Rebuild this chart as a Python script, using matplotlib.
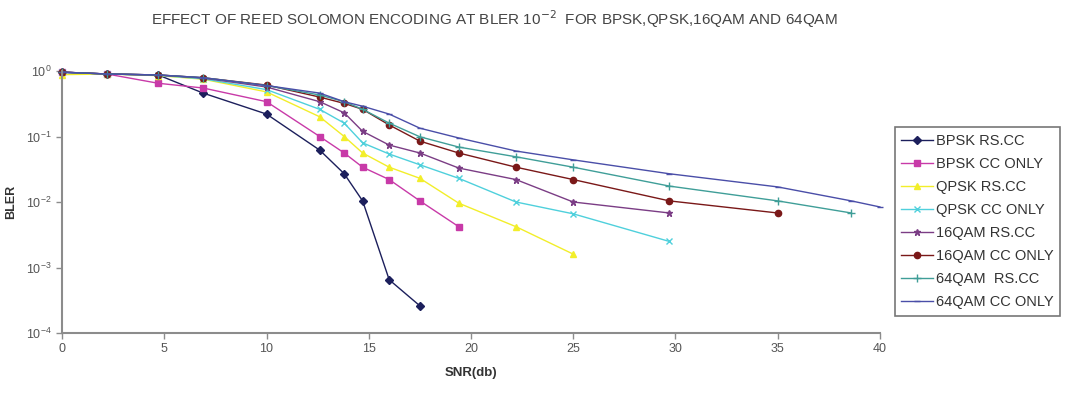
import matplotlib
matplotlib.use("Agg")
import matplotlib.pyplot as plt
import matplotlib.ticker as ticker

plt.rcParams["font.family"] = ["Liberation Sans", "DejaVu Sans"]

snr = [0, 2.2, 4.7, 6.9, 10, 12.6, 13.8, 14.7, 16, 17.5, 19.4, 22.2, 25, 29.7, 35, 38.6, 40]

bpsk_rs = [0.96, 0.90, 0.87, 0.46, 0.22, 0.062, 0.027, 0.0104, 0.00065, 0.00026]
bpsk_cc = [0.96, 0.90, 0.65, 0.55, 0.34, 0.10, 0.056, 0.034, 0.022, 0.0104, 0.0042]
qpsk_rs = [0.88, 0.90, 0.85, 0.75, 0.48, 0.20, 0.10, 0.056, 0.034, 0.023, 0.0096, 0.0042, 0.0016]
qpsk_cc = [0.95, 0.90, 0.86, 0.76, 0.52, 0.26, 0.16, 0.08, 0.054, 0.037, 0.023, 0.010, 0.0066, 0.0025]
qam16_rs = [0.96, 0.90, 0.87, 0.78, 0.57, 0.34, 0.23, 0.12, 0.074, 0.056, 0.033, 0.022, 0.010, 0.0068]
qam16_cc = [0.96, 0.90, 0.87, 0.79, 0.61, 0.40, 0.32, 0.26, 0.15, 0.085, 0.056, 0.034, 0.022, 0.0104, 0.0068]
qam64_rs = [0.96, 0.90, 0.87, 0.79, 0.60, 0.43, 0.34, 0.26, 0.16, 0.099, 0.069, 0.049, 0.034, 0.0175, 0.0104, 0.0068]
qam64_cc = [0.96, 0.90, 0.87, 0.79, 0.60, 0.46, 0.34, 0.29, 0.22, 0.134, 0.095, 0.060, 0.044, 0.027, 0.017, 0.0104, 0.0084]

series = [
    ("BPSK RS.CC", bpsk_rs, "#1c1f5c", "D", 3.6),
    ("BPSK CC ONLY", bpsk_cc, "#c83aa8", "s", 4.5),
    ("QPSK RS.CC", qpsk_rs, "#f2ee2a", "^", 4.5),
    ("QPSK CC ONLY", qpsk_cc, "#4fd0dc", "x", 4.5),
    ("16QAM RS.CC", qam16_rs, "#7b3d85", "*", 5),
    ("16QAM CC ONLY", qam16_cc, "#7a1818", "o", 4.5),
    ("64QAM  RS.CC", qam64_rs, "#3f9e98", "+", 5.5),
    ("64QAM CC ONLY", qam64_cc, "#4a4ea8", "_", 4.5),
]

fig = plt.figure(figsize=(10.81, 3.98), dpi=100)
ax = fig.add_axes([0.0574, 0.1633, 0.7566, 0.6583])

for name, vals, col, mk, ms in series:
    ax.plot(snr[:len(vals)], vals, color=col, marker=mk, markersize=ms,
            linewidth=1.0, label=name, clip_on=False)

ax.set_yscale("log")
ax.set_ylim(1e-4, 1)
ax.set_xlim(0, 40)
ax.xaxis.set_major_locator(ticker.MultipleLocator(5))
ax.yaxis.set_minor_locator(ticker.NullLocator())

for s in ["top", "right"]:
    ax.spines[s].set_visible(False)
for s in ["left", "bottom"]:
    ax.spines[s].set_color("#8c8c8c")
    ax.spines[s].set_linewidth(1.5)
ax.tick_params(colors="#8c8c8c", labelcolor="#555555", labelsize=9, length=4, width=1)

ax.set_xlabel("SNR(db)", fontsize=9.5, fontweight="bold", color="#333333", labelpad=8)
ax.set_ylabel("BLER", fontsize=9, fontweight="bold", color="#333333", labelpad=6)

fig.text(0.457, 0.952, r"EFFECT OF REED SOLOMON ENCODING AT BLER 10$^{-2}$  FOR BPSK,QPSK,16QAM AND 64QAM",
         ha="center", va="center", fontsize=11, color="#444444")

leg = ax.legend(loc="upper left", bbox_to_anchor=(1.018, 0.785), fontsize=10.5,
                frameon=True, fancybox=False, edgecolor="#555555",
                labelspacing=0.62, handlelength=2.2, handletextpad=0.2,
                borderpad=0.45, borderaxespad=0)
leg.get_frame().set_linewidth(1.2)
for t in leg.get_texts():
    t.set_color("#333333")

fig.savefig("out.png", dpi=100)
